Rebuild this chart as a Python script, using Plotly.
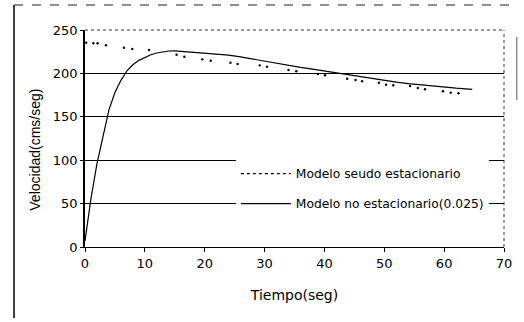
import plotly.graph_objects as go

# Pseudo-stationary model (dotted points)
t_seudo = [0.2, 1.4, 2.1, 3.5, 6.5, 7.9, 10.7, 15.3, 16.6, 19.6, 21.0, 24.3, 25.5,
           29.2, 30.4, 34.0, 35.3, 38.9, 40.1, 43.8, 45.2, 46.3, 49.1, 50.3, 51.5,
           54.3, 55.6, 56.8, 59.8, 61.1, 62.4]
v_seudo = [235.4, 234.7, 234.7, 232.4, 229.6, 228.1, 227.0, 221.5, 219.2, 216.2, 214.6,
           212.3, 210.8, 209.3, 207.7, 203.9, 202.4, 199.3, 197.8, 193.9, 192.4, 190.9,
           189.3, 187.0, 186.3, 185.5, 183.2, 181.7, 179.4, 177.8, 177.1]

# Non-stationary model (solid line)
t_noest = [0, 1, 2, 3, 4, 5, 6, 7, 8, 9, 10, 11, 12, 13, 14, 15, 16, 18, 20, 22, 24,
           26, 28, 30, 32, 34, 36, 38, 40, 42, 44, 46, 48, 50, 52, 54, 56, 58, 60, 62, 64.7]
v_noest = [7, 56, 96, 129, 158, 178, 192, 203, 210, 215, 218.5, 221.5, 223.5, 225, 225.8,
           226, 225.5, 224.5, 223.5, 222.3, 221, 219, 216.5, 214, 211.5, 209.3, 207,
           205, 202.8, 200.5, 198.5, 196.5, 194.5, 192, 190, 188.3, 186.8, 185.3, 184,
           183, 181.7]

x_ticks = [0, 10, 20, 30, 40, 50, 60, 70]
y_ticks = [0, 50, 100, 150, 200, 250]

FONT = "DejaVu Sans"

fig = go.Figure()
# legend proxy for the dotted style
fig.add_trace(go.Scatter(
    x=[None], y=[None], mode="lines", name="Modelo seudo estacionario",
    legendgroup="a", line=dict(color="black", width=1.4, dash="dot"),
))
fig.add_trace(go.Scatter(
    x=t_noest, y=v_noest, mode="lines", name="Modelo no estacionario(0.025)",
    legendgroup="b", line=dict(color="black", width=1.2),
))
fig.add_trace(go.Scatter(
    x=t_seudo, y=v_seudo, mode="markers", name="Modelo seudo estacionario",
    showlegend=False, marker=dict(color="black", size=2.4, symbol="circle"),
))

fig.update_layout(
    width=524, height=322,
    margin=dict(l=85, r=14, t=30, b=75),
    paper_bgcolor="white", plot_bgcolor="white",
    font=dict(family=FONT, color="black", size=13),
    showlegend=True,
    legend=dict(
        x=0.36, y=0.405, xanchor="left", yanchor="top",
        bgcolor="white", borderwidth=0,
        font=dict(family=FONT, size=12.3, color="black"),
        tracegroupgap=11, itemwidth=50,
    ),
    xaxis=dict(
        range=[0, 70], tickvals=x_ticks, ticktext=[str(v) for v in x_ticks],
        showgrid=False, zeroline=False,
        showline=True, linecolor="black", linewidth=1.2,
        ticks="outside", ticklen=4, tickcolor="black",
        tickfont=dict(family=FONT, size=13),
        title=dict(text="Tiempo(seg)", font=dict(family=FONT, size=14), standoff=20),
    ),
    yaxis=dict(
        range=[0, 250], tickvals=y_ticks, ticktext=[str(v) for v in y_ticks],
        showgrid=True, gridcolor="black", gridwidth=1,
        zeroline=False,
        showline=True, linecolor="black", linewidth=1.5,
        ticks="outside", ticklen=3, tickcolor="black",
        tickfont=dict(family=FONT, size=13),
    ),
    annotations=[
        dict(text="Velocidad(cms/seg)", textangle=-90, showarrow=False,
             xref="paper", yref="paper", x=(34 - 85) / 425, y=(247 - 150) / 217,
             xanchor="center", yanchor="middle",
             font=dict(family="Liberation Sans", size=14, color="black")),
    ],
    shapes=[
        # plot area top and right border (dotted, scanned look)
        dict(type="line", xref="paper", yref="paper", x0=0, x1=1, y0=1, y1=1,
             line=dict(color="#333", width=1, dash="dot")),
        dict(type="line", xref="paper", yref="paper", x0=1, x1=1, y0=0, y1=1,
             line=dict(color="#333", width=1, dash="dot")),
        # outer chart frame
        dict(type="line", xref="paper", yref="paper",
             x0=(13 - 85) / 425, x1=(13 - 85) / 425, y0=(247 - 318) / 217, y1=(247 - 5) / 217,
             line=dict(color="black", width=1.5)),
        dict(type="line", xref="paper", yref="paper",
             x0=(13 - 85) / 425, x1=(524 - 85) / 425, y0=(247 - 5) / 217, y1=(247 - 5) / 217,
             line=dict(color="#222", width=1.2, dash="dash")),
        dict(type="line", xref="paper", yref="paper",
             x0=(523 - 85) / 425, x1=(523 - 85) / 425, y0=(247 - 100) / 217, y1=(247 - 37) / 217,
             line=dict(color="#555", width=1)),
    ],
)

fig.write_html("out.html")
